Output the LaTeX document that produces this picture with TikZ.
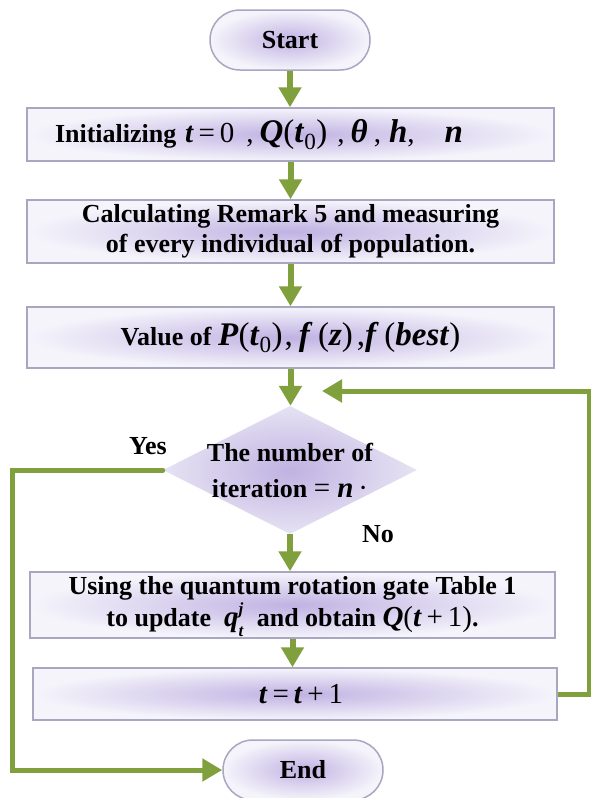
\documentclass[tikz,border=0pt]{standalone}
\usepackage{fontspec}
\setmainfont{Liberation Serif}
\usetikzlibrary{shapes.geometric,arrows.meta}
\definecolor{grn}{RGB}{128,160,62}
\definecolor{lav}{RGB}{192,178,226}
\definecolor{lavout}{RGB}{245,244,251}
\definecolor{lavdia}{RGB}{230,227,243}
\definecolor{bord}{RGB}{168,166,192}
\newcommand{\mv}[1]{\textbf{\textit{#1}}}
\newcommand{\mth}{\fontsize{29}{30}\selectfont\mdseries}
\newcommand{\mthb}{\fontsize{33}{30}\selectfont\mdseries}
\newcommand{\scr}{\fontsize{17}{17}\selectfont}
\newcommand{\qtj}{\mv{q}\makebox[0pt][l]{\raisebox{0.42em}[0pt][0pt]{\scr\mv{j}}}\raisebox{-0.34em}[0pt][0pt]{\scr\mv{t}}}
\begin{document}
\begin{tikzpicture}[x=1pt,y=-1pt,
  font=\fontsize{26}{30}\selectfont\bfseries,
  box/.style={rectangle, draw=bord, line width=1.5pt, inner color=lav, outer color=lavout, align=center, inner sep=0pt},
  capsule/.style={box, rounded corners=29.9pt, minimum width=160pt, minimum height=60pt},
  flow/.style={draw=grn, line width=6pt, -{Triangle[width=22pt,length=20pt]}},
  loopline/.style={draw=grn, line width=5pt, line join=miter},
  tip/.style={-{Triangle[width=22pt,length=20pt]}}]
\useasboundingbox[fill=white] (0,0) rectangle (591,798);

\node[capsule] (start) at (290,40) {Start};
\node[box, minimum width=527pt, minimum height=53pt, text width=471pt, align=left] (init) at (290.5,134.5)
  {Initializing {\mth\mv{t}\,=\,0\hspace{12pt},\hspace{6pt}{\mthb\mv{Q}(\mv{t}\textsubscript{0})}\hspace{10pt},\hspace{6pt}{\mthb\mv{θ}}\hspace{6pt},\hspace{8pt}{\mthb\mv{h}},\hspace{30pt}{\mthb\mv{n}}}};
\node[box, minimum width=527pt, minimum height=61pt] (value) at (290.5,337.5)
  {Value of {\mthb\mv{P}(\mv{t}\textsubscript{0})\hspace{2pt},\hspace{6pt}\mv{f}\,(\mv{z})\hspace{4pt},\mv{f}\,(\mv{best})}};
\node[box, minimum width=527pt, minimum height=63pt] (calc) at (290.5,231.5)
  {Calculating Remark 5 and measuring\\ of every individual of population.};
\node[diamond, inner sep=0pt, minimum width=254pt, minimum height=128pt, inner color=lav, outer color=lavdia,
  label={[align=center, font=\fontsize{26}{36}\selectfont\bfseries]center:The number of\\ iteration {\mth= \mv{n}\,·}}] (dec) at (290,470) {};
\node[box, minimum width=525pt, minimum height=66pt, font=\fontsize{26}{32}\selectfont\bfseries] (upd) at (292.5,605)
  {Using the quantum rotation gate Table 1\\ to update \ {\mth\qtj} \ and obtain {\mth\mv{Q}(\mv{t}\,+\,1)}.};
\node[box, minimum width=524pt, minimum height=52pt] (inc) at (295,694)
  {\mth\hspace*{12pt}\mv{t}\,=\,\mv{t}\,+\,1};
\node[capsule] (endn) at (303,770) {End};

\node (yes) at (148,446) {Yes};
\node (no) at (378,534) {No};

\draw[flow] (start.south) -- (start.south |- init.north);
\draw[flow] (init.south) -- (calc.north);
\draw[flow] (calc.south) -- (value.north);
\draw[flow] (value.south) -- (value.south |- dec.north);
\draw[flow] (dec.south) -- (dec.south |- upd.north);
\draw[flow] (upd.south) -- (upd.south |- inc.north);

\coordinate (rt) at (589,391);
\coordinate (merge) at (322,391);
\draw[loopline, tip] (inc.east) -| (rt) -- (merge);

\coordinate (lf) at (12,0);
\draw[loopline, tip, line cap=round] (dec.west) -- (dec.west -| lf) |- (endn.west);
\end{tikzpicture}
\end{document}
